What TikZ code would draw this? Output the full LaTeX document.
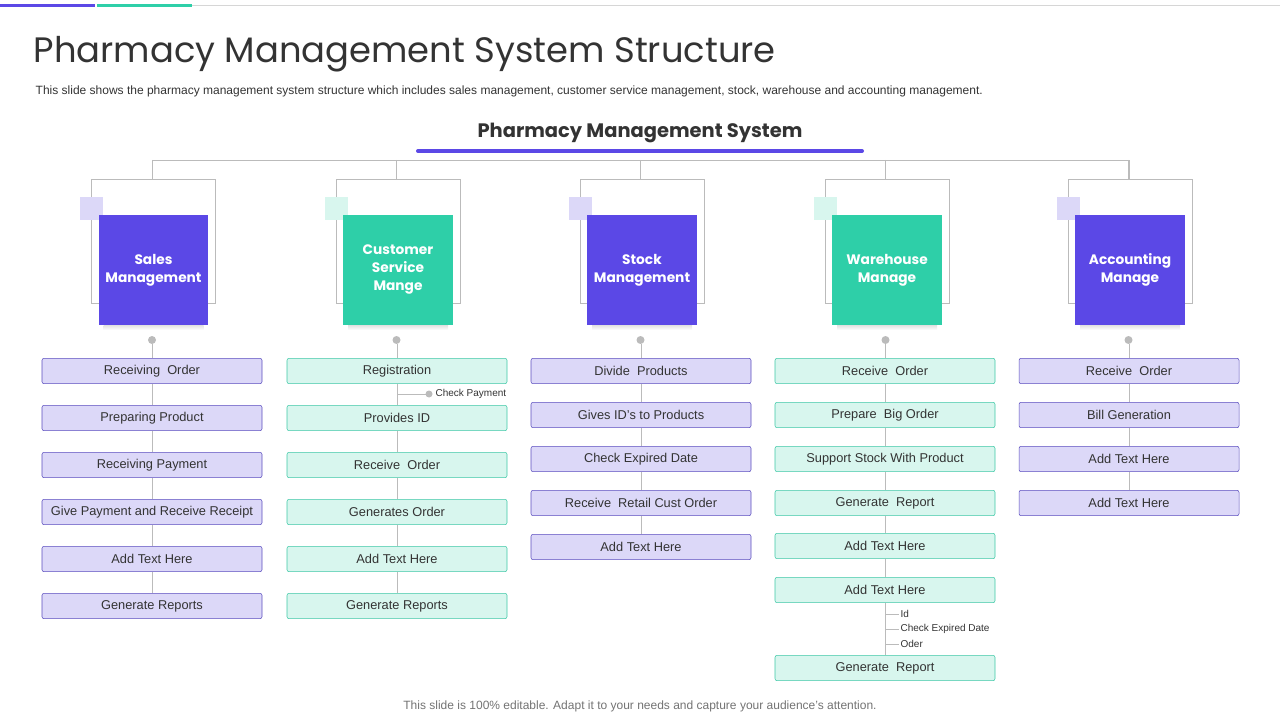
\documentclass[tikz,border=0pt]{standalone}
\usepackage{fontspec}
\setmainfont{Liberation Sans}
\newfontfamily\pop{Poppins}
\begin{document}
\definecolor{pu}{HTML}{5B48E6}\definecolor{lpu}{HTML}{DCD8F8}\definecolor{bpu}{HTML}{5A4DBE}
\definecolor{te}{HTML}{2ECFA8}\definecolor{lte}{HTML}{D8F6EE}\definecolor{bte}{HTML}{3DC8A6}
\definecolor{gl}{HTML}{BBBBBB}\definecolor{tx}{HTML}{333333}
\begin{tikzpicture}[x=0.75pt,y=-0.75pt,
 itp/.style={draw=bpu,fill=lpu,rounded corners=1.5pt,minimum width=165pt,minimum height=19pt,inner sep=0pt,font=\fontsize{9.6}{11}\selectfont,text=tx},
 itt/.style={itp,draw=bte,fill=lte},
 hd/.style={minimum width=81.75pt,minimum height=81.75pt,inner sep=2pt,text width=78pt,align=center,text=white,font=\pop\bfseries\fontsize{10.3}{13.5}\selectfont},
 ln/.style={draw=gl,line width=0.6pt},
 sm/.style={font=\fontsize{7.5}{8}\selectfont,text=tx,anchor=west,inner sep=1pt}]
\useasboundingbox (0,0) rectangle (1280,720);
\fill[pu] (0,4) rectangle (95,7);
\fill[te] (97,4) rectangle (192,7);
\draw[draw=gl!60,line width=0.5pt] (192,5.5) -- (1280,5.5);
\node[anchor=west,text=tx,font=\pop\fontsize{26.5}{30}\selectfont] (title) at (29,54) {Pharmacy Management System Structure};
\node[anchor=west,text=tx,font=\fontsize{9}{10}\selectfont] (sub) at (31,91) {This slide shows the pharmacy management system structure which includes sales management, customer service management, stock, warehouse and accounting management.};
\node[text=tx,font=\pop\bfseries\fontsize{14.6}{17}\selectfont] (main) at (640,133) {Pharmacy Management System};
\draw[pu,line width=3pt,line cap=round] (418,151) -- (862,151);
\draw[ln] (152,179) -- (152,160) -- (1129,160) -- (1129,179);
\foreach \c/\x/\col/\lc/\t in {a/153.5/pu/lpu/{Sales\\Management},b/398/te/lte/{Customer\\Service\\Mange},c/642/pu/lpu/{Stock\\Management},d/887/te/lte/{Warehouse\\Manage},e/1130/pu/lpu/{Accounting\\Manage}}{
 \draw[ln] (\x-1.5,160) -- (\x-1.5,179);
 \draw[ln] (\x-62,179) rectangle (\x+62,303);
 \fill[\lc] (\x-73.5,197) rectangle (\x-50.5,220);
 \shade[top color=black!12,bottom color=white] (\x-50,325) rectangle (\x+50,330);
 \node[hd,fill=\col] (h\c) at (\x,270) {\t};
 \fill[gl] (\x-1.5,340) circle (4);
}
% column 1
\foreach \i/\y/\t in {1/371/Receiving\ \ Order,2/418/Preparing Product,3/465/Receiving Payment,4/512/Give Payment and Receive Receipt,5/559/Add Text Here,6/606/Generate Reports}{\node[itp] (a\i) at (152,\y) {\t};}
\draw[ln] (152,344) -- (a1);
\foreach \i/\j in {1/2,2/3,3/4,4/5,5/6}{\draw[ln] (a\i) -- (a\j);}
% column 2
\foreach \i/\y/\t in {1/371/Registration,2/418/Provides ID,3/465/Receive\ \ Order,4/512/Generates Order,5/559/Add Text Here,6/606/Generate Reports}{\node[itt] (b\i) at (397,\y) {\t};}
\draw[ln] (397,344) -- (b1);
\foreach \i/\j in {1/2,2/3,3/4,4/5,5/6}{\draw[ln] (b\i) -- (b\j);}
\fill[gl] (429,394) circle (3.5);
\coordinate (cp) at (429,394);
\draw[ln] (397,394) -- (cp);
\node[sm] (cpt) at (434,394) {Check Payment};
% column 3
\foreach \i/\y/\t in {1/371/Divide\ \ Products,2/415/Gives ID's to Products,3/459/Check Expired Date,4/503/Receive\ \ Retail Cust Order,5/547/Add Text Here}{\node[itp] (c\i) at (641,\y) {\t};}
\draw[ln] (641,344) -- (c1);
\foreach \i/\j in {1/2,2/3,3/4,4/5}{\draw[ln] (c\i) -- (c\j);}
% column 4
\foreach \i/\y/\t in {1/371/Receive\ \ Order,2/415/Prepare\ \ Big Order,3/459/Support Stock With Product,4/503/Generate\ \ Report,5/546/Add Text Here,6/590/Add Text Here,7/668/Generate\ \ Report}{\node[itt] (d\i) at (885,\y) {\t};}
\draw[ln] (885,344) -- (d1);
\foreach \i/\j in {1/2,2/3,3/4,4/5,5/6,6/7}{\draw[ln] (d\i) -- (d\j);}
\foreach \y/\t/\n in {614/Id/i1,629/Check Expired Date/i2,644/Oder/i3}{\draw[ln] (885,\y) -- (899,\y); \node[sm] (\n) at (899,\y) {\t};}
% column 5
\foreach \i/\y/\t in {1/371/Receive\ \ Order,2/415/Bill Generation,3/459/Add Text Here,4/503/Add Text Here}{\node[itp] (e\i) at (1129,\y) {\t};}
\draw[ln] (1129,344) -- (e1);
\foreach \i/\j in {1/2,2/3,3/4}{\draw[ln] (e\i) -- (e\j);}
\node[text=black!55,font=\fontsize{9}{10}\selectfont] (foot) at (640,706) {This slide is 100\% editable. Adapt it to your needs and capture your audience's attention.};
\end{tikzpicture}
\end{document}
